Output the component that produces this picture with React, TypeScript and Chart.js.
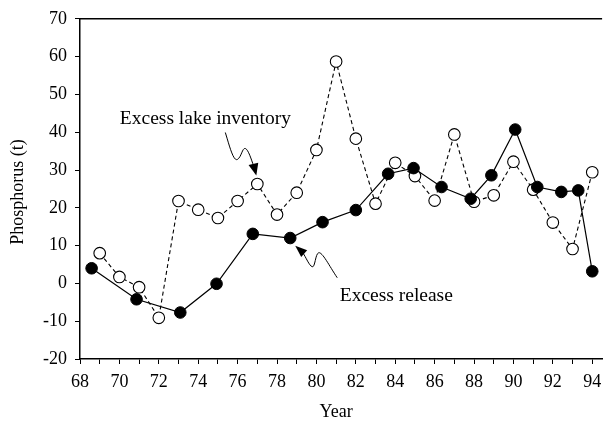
import React, { useEffect, useRef } from "react";
import { Chart, registerables } from "chart.js";

Chart.register(...registerables);

// Excess release (filled markers), plotted at the mid-points of the release periods
const releaseYears = [68.59, 70.87, 73.09, 74.93, 76.77, 78.67, 80.31, 82.0, 83.64, 84.93, 86.35, 87.83, 88.88, 90.09, 91.21, 92.43, 93.29, 94.0];
const releaseValues = [4.0, -4.2, -7.7, -0.1, 13.1, 12.0, 16.2, 19.4, 29.0, 30.5, 25.5, 22.4, 28.6, 40.7, 25.5, 24.2, 24.6, 3.2];

// Excess lake inventory (open markers), one value per year
const inventoryYears = [69, 70, 71, 72, 73, 74, 75, 76, 77, 78, 79, 80, 81, 82, 83, 84, 85, 86, 87, 88, 89, 90, 91, 92, 93, 94];
const inventoryValues = [8.0, 1.7, -1.0, -9.1, 21.8, 19.5, 17.3, 21.8, 26.3, 18.2, 24.0, 35.3, 58.7, 38.3, 21.1, 31.9, 28.4, 21.9, 39.4, 21.6, 23.3, 32.2, 24.8, 16.1, 9.1, 29.4];

// Axis tick labels
const xLabelYears = [68, 70, 72, 74, 76, 78, 80, 82, 84, 86, 88, 90, 92, 94];
const yTickValues = [-20, -10, 0, 10, 20, 30, 40, 50, 60, 70];

const xTitle = "Year";
const yTitle = "Phosphorus (t)";
const inventoryNote = "Excess lake inventory";
const releaseNote = "Excess release";

const SERIF = "'Liberation Serif', 'Times New Roman', serif";

function arrowHead(ctx: CanvasRenderingContext2D, tx: number, ty: number, fx: number, fy: number, len: number, halfW: number) {
  const ang = Math.atan2(ty - fy, tx - fx);
  const bx = tx - Math.cos(ang) * len;
  const by = ty - Math.sin(ang) * len;
  const px = -Math.sin(ang) * halfW;
  const py = Math.cos(ang) * halfW;
  ctx.beginPath();
  ctx.moveTo(tx, ty);
  ctx.lineTo(bx + px, by + py);
  ctx.lineTo(bx - px, by - py);
  ctx.closePath();
  ctx.fill();
}

const decorations = {
  id: "decorations",
  afterDraw(chart: any) {
    const { ctx, chartArea, scales } = chart;
    const x = scales.x;
    const y = scales.y;
    ctx.save();
    ctx.strokeStyle = "#000";
    ctx.fillStyle = "#000";

    // top frame line
    ctx.lineWidth = 1.5;
    ctx.beginPath();
    ctx.moveTo(chartArea.left, chartArea.top);
    ctx.lineTo(chartArea.right, chartArea.top);
    ctx.stroke();

    // axis titles
    ctx.font = `18px ${SERIF}`;
    ctx.textAlign = "center";
    ctx.textBaseline = "middle";
    const midX = (x.getPixelForValue(xLabelYears[0]) + x.getPixelForValue(xLabelYears[xLabelYears.length - 1])) / 2;
    ctx.fillText(xTitle, midX, 412);
    ctx.save();
    ctx.translate(18, (chartArea.top + chartArea.bottom) / 2 + 3);
    ctx.rotate(-Math.PI / 2);
    ctx.fillText(yTitle, 0, 0);
    ctx.restore();

    // callout: excess lake inventory, pointing at the 1977 marker
    const ax = x.getPixelForValue(inventoryYears[8]) - 1;
    const ay = y.getPixelForValue(inventoryValues[8]) - 8.5;
    ctx.lineWidth = 1;
    ctx.beginPath();
    ctx.moveTo(ax - 31, ay - 43);
    ctx.bezierCurveTo(ax - 27, ay - 30, ax - 23, ay - 14, ax - 19, ay - 16);
    ctx.bezierCurveTo(ax - 15, ay - 18, ax - 14, ay - 28, ax - 11, ay - 27);
    ctx.bezierCurveTo(ax - 8, ay - 26, ax - 5, ay - 16, ax - 2.5, ay - 9);
    ctx.stroke();
    arrowHead(ctx, ax, ay, ax - 3, ay - 12, 12, 5);

    ctx.font = `19.5px ${SERIF}`;
    ctx.textAlign = "left";
    ctx.textBaseline = "middle";
    ctx.fillText(inventoryNote, ax - 136.5, ay - 57);

    // callout: excess release, pointing at the 1978 marker
    const bx = x.getPixelForValue(releaseYears[5]) + 5;
    const by = y.getPixelForValue(releaseValues[5]) + 7.7;
    ctx.beginPath();
    ctx.moveTo(bx + 42, by + 32);
    ctx.bezierCurveTo(bx + 34, by + 20, bx + 27, by + 6, bx + 23.5, by + 7);
    ctx.bezierCurveTo(bx + 20, by + 8, bx + 20, by + 22, bx + 17, by + 21);
    ctx.bezierCurveTo(bx + 14, by + 20, bx + 11, by + 12, bx + 7, by + 6);
    ctx.stroke();
    arrowHead(ctx, bx, by, bx + 9, by + 8, 12, 4.5);

    ctx.fillText(releaseNote, bx + 44.5, by + 50);
    ctx.restore();
  },
};

export default function App() {
  const canvasRef = useRef<HTMLCanvasElement | null>(null);

  useEffect(() => {
    const canvas = canvasRef.current;
    if (!canvas) return;

    const chart = new Chart(canvas, {
      type: "line",
      data: {
        datasets: [
          {
            label: releaseNote,
            data: releaseYears.map((yr, i) => ({ x: yr, y: releaseValues[i] })),
            borderColor: "#000",
            borderWidth: 1.2,
            backgroundColor: "#000",
            pointBackgroundColor: "#000",
            pointBorderColor: "#000",
            pointBorderWidth: 1,
            pointRadius: 5.8,
            tension: 0,
          },
          {
            label: inventoryNote,
            data: inventoryYears.map((yr, i) => ({ x: yr, y: inventoryValues[i] })),
            borderColor: "#000",
            borderWidth: 1.1,
            borderDash: [4, 3],
            backgroundColor: "#fff",
            pointBackgroundColor: "#fff",
            pointBorderColor: "#000",
            pointBorderWidth: 1.1,
            pointRadius: 5.8,
            tension: 0,
          },
        ],
      },
      options: {
        responsive: false,
        animation: false,
        devicePixelRatio: 1,
        layout: { padding: { top: 17, right: 0, left: 0, bottom: 0 } },
        plugins: {
          legend: { display: false },
          tooltip: { enabled: false },
        },
        scales: {
          x: {
            type: "linear",
            min: 68,
            max: 94.5,
            afterFit: (scale: any) => {
              scale.height = 62;
            },
            border: { display: true, color: "#000", width: 1.5 },
            grid: { drawOnChartArea: false, drawTicks: true, tickLength: 5, color: "#000", lineWidth: 1 },
            ticks: {
              stepSize: 1,
              includeBounds: false,
              autoSkip: false,
              maxRotation: 0,
              padding: 7,
              color: "#000",
              font: { family: SERIF, size: 18 },
              callback: (v: any) => (xLabelYears.includes(Number(v)) ? String(v) : ""),
            },
          },
          y: {
            type: "linear",
            min: yTickValues[0],
            max: yTickValues[yTickValues.length - 1],
            afterFit: (scale: any) => {
              scale.width = 80;
            },
            border: { display: true, color: "#000", width: 1.5 },
            grid: { drawOnChartArea: false, drawTicks: true, tickLength: 5, color: "#000", lineWidth: 1 },
            ticks: {
              stepSize: 10,
              padding: 8,
              color: "#000",
              font: { family: SERIF, size: 18 },
              callback: (v: any) => (yTickValues.includes(Number(v)) ? String(v) : ""),
            },
          },
        },
      },
      plugins: [decorations],
    });

    return () => chart.destroy();
  }, []);

  return (
    <div style={{ position: "absolute", left: 0, top: 0, width: 609, height: 421, background: "#fff" }}>
      <canvas ref={canvasRef} width={609} height={421} />
    </div>
  );
}
